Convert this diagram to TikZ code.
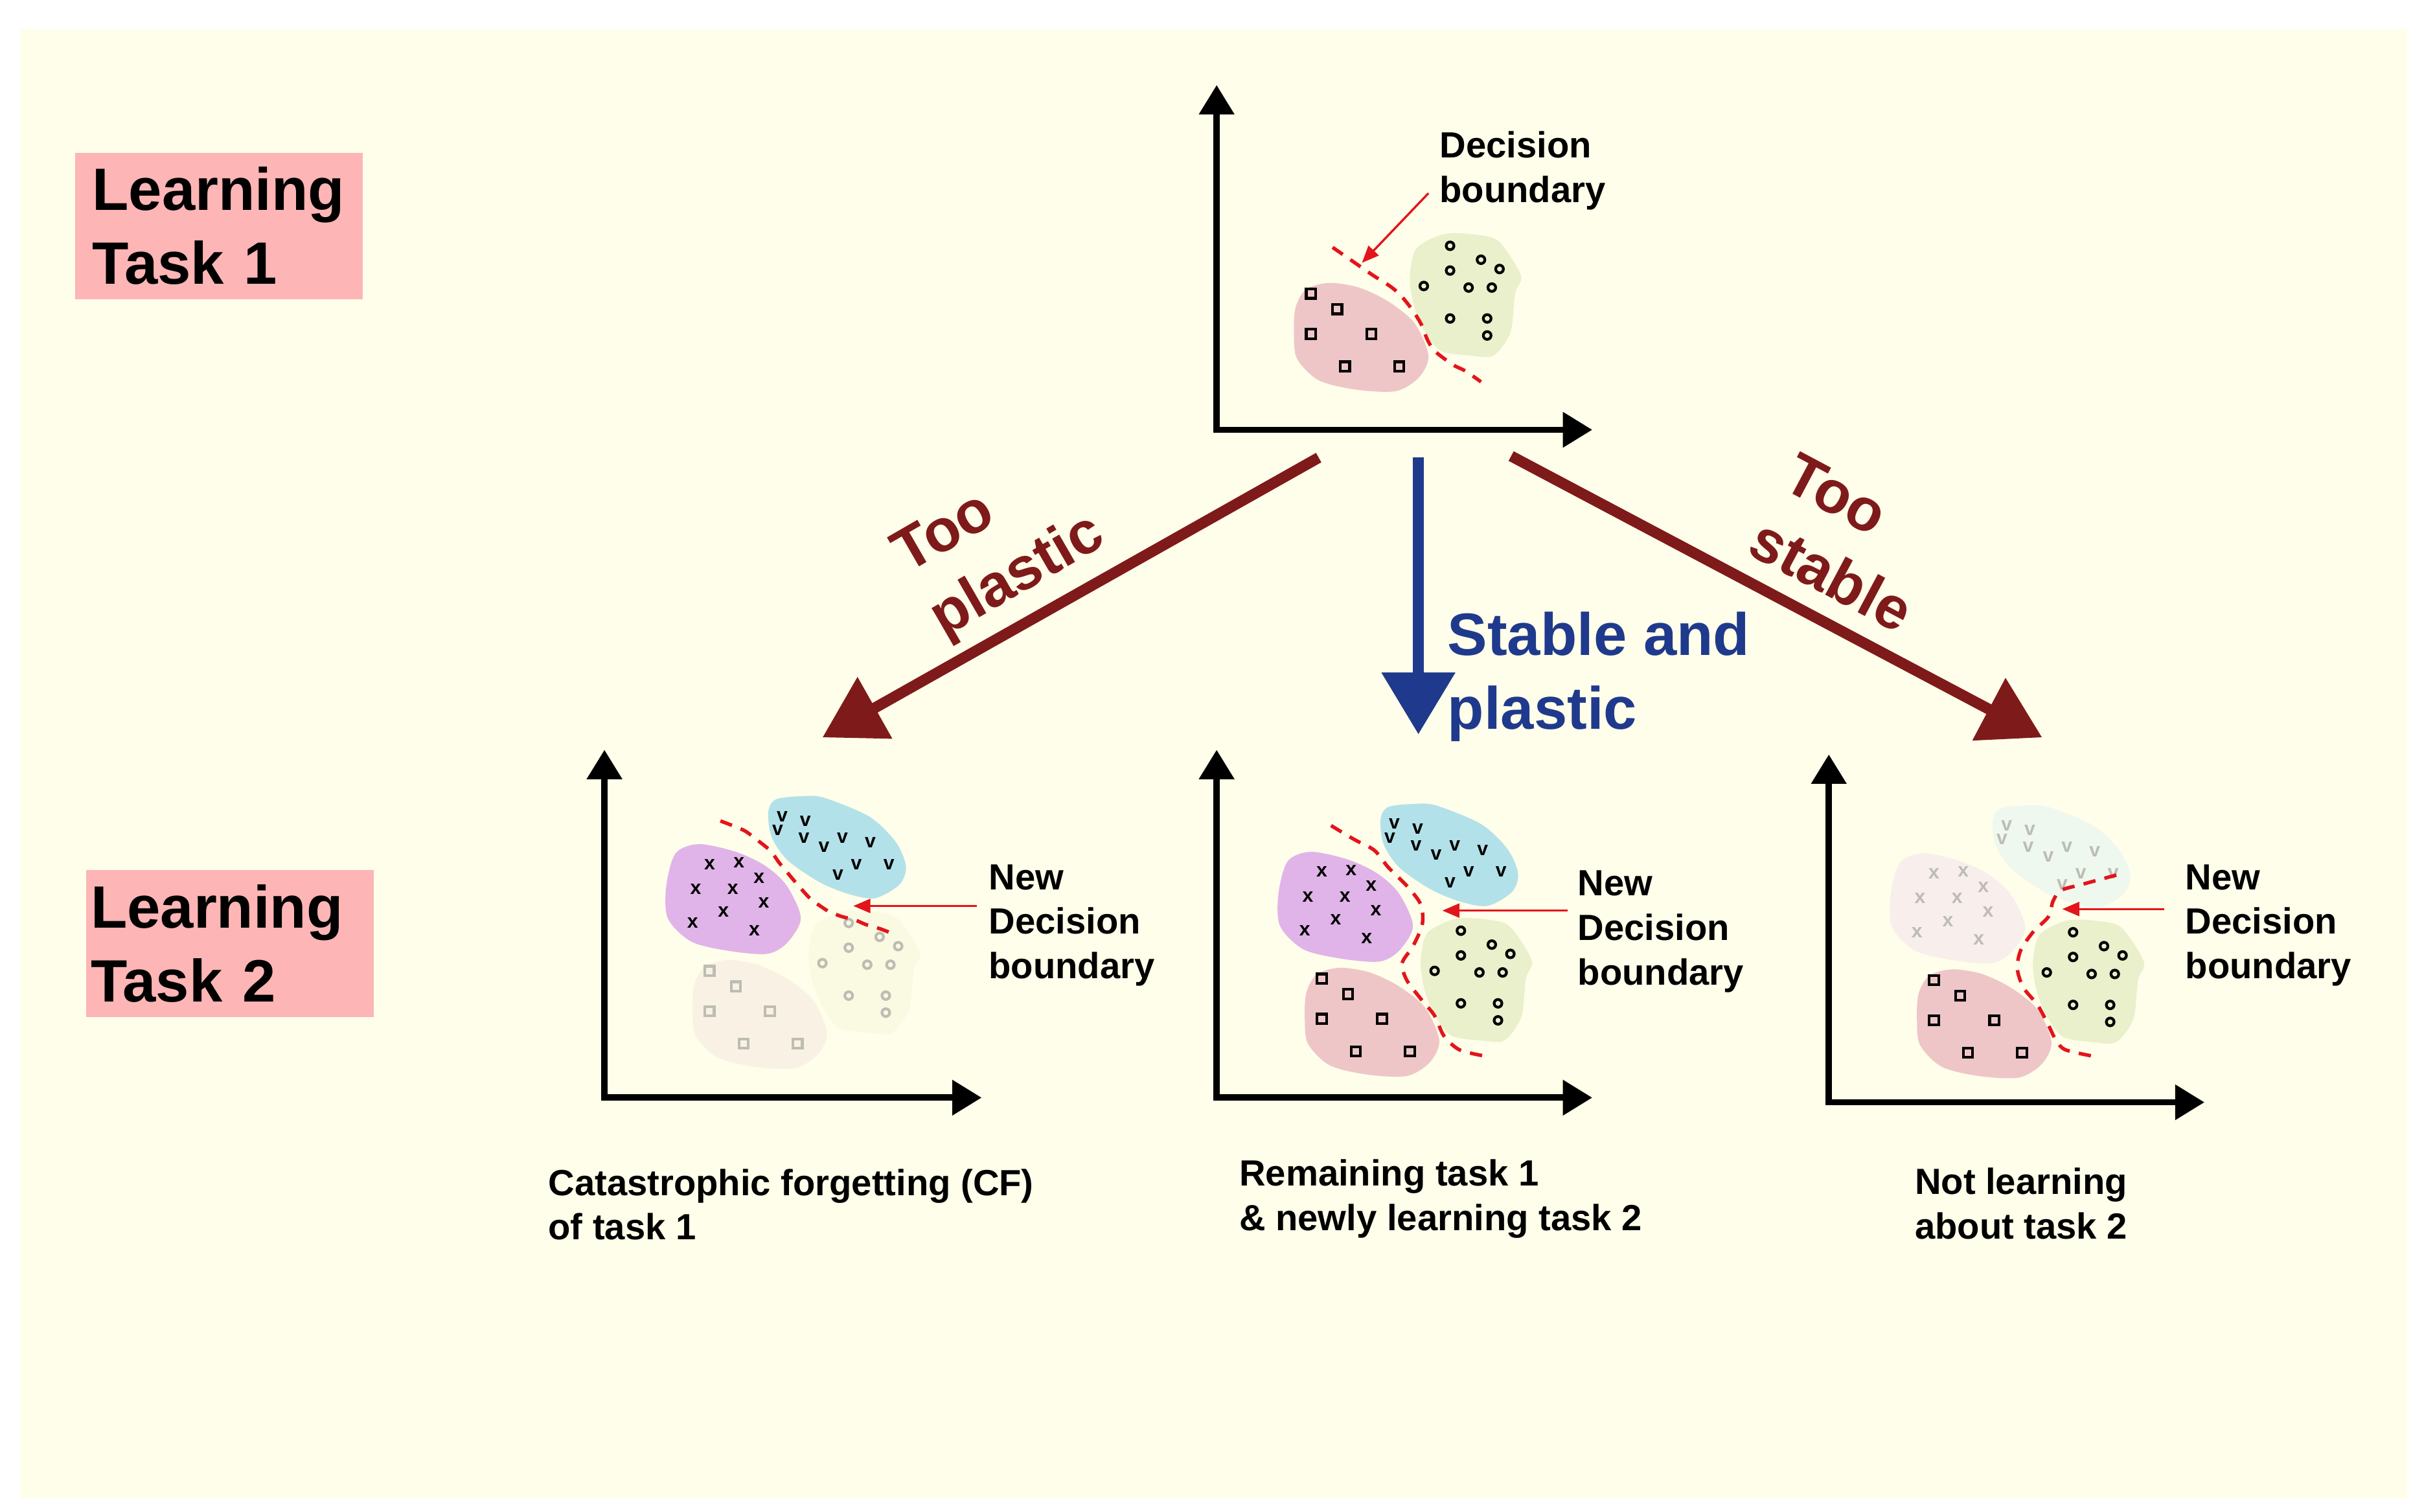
\documentclass[tikz,border=0pt]{standalone}
\usepackage{fontspec}
\setmainfont{Liberation Sans}
\usetikzlibrary{arrows.meta, positioning}
\definecolor{cream}{HTML}{FEFEEA}
\definecolor{taskpink}{HTML}{FDB5B5}
\definecolor{bpink}{HTML}{EEC6C8}
\definecolor{bgreen}{HTML}{E9F0CB}
\definecolor{bcyan}{HTML}{B3E1E9}
\definecolor{bpurple}{HTML}{E0B4E8}
\definecolor{fpink}{HTML}{F9F2E4}
\definecolor{fgreen}{HTML}{FAFAE3}
\definecolor{fpurple}{HTML}{F8EEEB}
\definecolor{fcyan}{HTML}{EFF8EE}
\definecolor{fgrey}{HTML}{BDBDB3}
\definecolor{dashred}{HTML}{E3141B}
\definecolor{darkred}{HTML}{7F1A1A}
\definecolor{navy}{HTML}{1F3A8C}
\tikzset{
  every picture/.style={font=\bfseries},
  axes/.style={line width=1.17pt, line join=miter, {Triangle[length=1.9mm, width=2.2mm]}-{Triangle[length=1.9mm, width=2.2mm]}},
  taskbox/.style={fill=taskpink, anchor=north west, minimum width=18.6mm, minimum height=9.5mm, text width=16.4mm, inner xsep=1.1mm, inner ysep=0pt, align=left, font=\fontsize{11}{13.6}\selectfont\bfseries},
  branch/.style={anchor=base west, align=left, inner sep=0pt, font=\fontsize{11}{13.6}\selectfont\bfseries},
  note/.style={anchor=base west, align=left, inner sep=0pt, font=\fontsize{6.7}{8.2}\selectfont\bfseries},
  glyph/.style={inner sep=0pt, font=\fontsize{3.6}{4}\selectfont\bfseries},
  boundary/.style={draw=dashred, line width=0.65pt, dash pattern=on 0.8mm off 0.6mm},
  pointer/.style={draw=dashred, line width=0.4pt, -{Triangle[length=1.1mm, width=0.9mm]}},
  bigarrow/.style={line width=2pt, -{Triangle[length=3.9mm, width=4.4mm]}},
}
\newcommand{\pinkblob}[2]{%
  \fill[#1] plot[smooth cycle] coordinates {(58,-68) (65,-80) (80,-84) (99,-81) (118,-72) (135,-58) (144,-37) (138,-23) (123,-14) (97,-15) (73,-21) (59,-35) (57,-51)};
  \foreach \mx/\my in {68/-77, 85/-67, 68/-51, 107/-51, 90/-30, 125/-30}
    \draw[draw=#2, line width=0.5pt] (\mx-3,\my-3) rectangle (\mx+3,\my+3);
}
\newcommand{\greenblob}[2]{%
  \fill[#1] plot[smooth cycle] coordinates {(152,-115) (166,-116) (186,-113) (195,-104) (204,-88) (200,-77) (197,-52) (186,-37) (171,-37) (152,-40) (142,-52) (135,-68) (132,-87) (136,-106)};
  \foreach \mx/\my in {158/-108, 178/-99, 158/-92, 190/-93, 141/-82, 170/-81, 185/-81, 158/-61, 182/-61, 182/-50}
    \draw[draw=#2, line width=0.5pt] (\mx,\my) circle[radius=2.5];
}
\newcommand{\purpleblob}[2]{%
  \fill[#1] plot[smooth cycle] coordinates {(40,-132) (46,-153) (61,-159) (85,-154) (104,-145) (118,-132) (127,-111) (118,-95) (105,-88) (80,-90) (56,-96) (41,-111)};
  \foreach \mx/\my in {68/-146, 87/-147, 100/-137, 59/-130, 83/-130, 103/-121, 77/-115, 57/-108, 97/-103}
    \node[glyph, text=#2] at (\mx,\my) {x};
}
\newcommand{\cyanblob}[2]{%
  \fill[#1] plot[smooth cycle] coordinates {(106,-180) (111,-188) (128,-190) (142,-189) (171,-177) (188,-161) (195,-145) (191,-133) (175,-124) (157,-127) (138,-135) (118,-149) (108,-164)};
  \foreach \mx/\my in {115/-177, 130/-174, 112/-168, 129/-163, 154/-163, 172/-160, 142/-157, 163/-146, 184/-146, 151/-139}
    \node[glyph, text=#2] at (\mx,\my) {v};
}

\begin{document}
\begin{tikzpicture}[x=0.1mm, y=-0.1mm]
  \useasboundingbox (0,0) rectangle (1568,978);
  \fill[cream] (13,19) rectangle (1557,969);

  \node[taskbox] (task1) at (48,98) {Learning\\Task 1};
  \node[taskbox, text width=18mm, inner xsep=0.3mm] (task2) at (55,562) {Learning\\Task 2};

  % task 1 only
  \begin{scope}[shift={(787,278)}]
    \begin{scope}[shift={(-7,-11)}]
      \pinkblob{bpink}{black}
      \greenblob{bgreen}{black}
    \end{scope}
    \draw[boundary] plot[smooth] coordinates {(75,-118) (88,-109) (101,-100) (112,-93) (119,-87) (127,-77) (133,-67) (136,-59) (141,-51) (153,-42) (161,-38) (171,-31)};
    \draw[axes] (0,-223) -- (0,0) -- (243,0);
    \node[note] (db1) at (143.6,-147) {Decision\\boundary};
    \coordinate (db1tail) at (137,-153);
    \coordinate (db1tip) at (94,-108);
    \draw[pointer] (db1tail) -- (db1tip);
  \end{scope}

  % too plastic
  \begin{scope}[shift={(391,710)}]
    \begin{scope}[shift={(0,-5)}]
      \pinkblob{fpink}{fgrey}
      \greenblob{fgreen}{fgrey}
      \purpleblob{bpurple}{black}
      \cyanblob{bcyan}{black}
    \end{scope}
    \draw[boundary] plot[smooth] coordinates {(75,-179) (90,-173) (97,-168) (107,-160) (113,-152) (118,-146) (123,-140) (130,-132) (134,-128) (141,-123) (146,-120) (154,-117) (162,-115) (169,-112) (179,-109) (189,-105)};
    \draw[axes] (0,-225) -- (0,0) -- (244,0);
    \node[note] (db2) at (248,-77) {New\\Decision\\boundary};
    \coordinate (db2tail) at (241,-124);
    \coordinate (db2tip) at (161,-124);
    \draw[pointer] (db2tail) -- (db2tip);
    \node[note] (cf) at (-37,92) {Catastrophic forgetting (CF)\\of task 1};
  \end{scope}

  % stable and plastic
  \begin{scope}[shift={(787,710)}]
    \pinkblob{bpink}{black}
    \greenblob{bgreen}{black}
    \purpleblob{bpurple}{black}
    \cyanblob{bcyan}{black}
    \draw[boundary] plot[smooth] coordinates {(74,-176) (89,-167) (102,-160) (111,-149) (123,-137) (132,-125) (133,-112) (127,-98) (120,-87) (123,-76) (132,-64) (141,-53) (147,-40) (157,-31) (173,-27)};
    \draw[axes] (0,-225) -- (0,0) -- (243,0);
    \node[note] (db3) at (233,-73) {New\\Decision\\boundary};
    \coordinate (db3tail) at (227,-121);
    \coordinate (db3tip) at (146,-121);
    \draw[pointer] (db3tail) -- (db3tip);
    \node[note] (keep) at (14,86) {Remaining task 1\\\& newly learning task 2};
  \end{scope}

  % too stable
  \begin{scope}[shift={(1183,713)}]
    \begin{scope}[shift={(0,-2)}]
      \pinkblob{bpink}{black}
      \greenblob{bgreen}{black}
      \purpleblob{fpurple}{fgrey}
      \cyanblob{fcyan}{fgrey}
    \end{scope}
    \draw[boundary] plot[smooth] coordinates {(186,-147) (164,-141) (150,-137) (145,-130) (142,-120) (132,-110) (124,-98) (122,-86) (126,-74) (135,-63) (142,-50) (147,-40) (153,-34) (170,-30)};
    \draw[axes] (0,-225) -- (0,0) -- (243,0);
    \node[note] (db4) at (230,-80) {New\\Decision\\boundary};
    \coordinate (db4tail) at (217,-125);
    \coordinate (db4tip) at (151,-125);
    \draw[pointer] (db4tail) -- (db4tip);
    \node[note] (nolearn) at (55,88.5) {Not learning\\about task 2};
  \end{scope}

  \coordinate (plasticFrom) at (853,296);
  \coordinate (plasticTo) at (532,477);
  \coordinate (bothFrom) at (917.5,296);
  \coordinate (bothTo) at (917.5,475);
  \coordinate (stableFrom) at (977.5,295);
  \coordinate (stableTo) at (1321,477);
  \draw[bigarrow, darkred] (plasticFrom) -- (plasticTo);
  \draw[bigarrow, navy, -{Triangle[length=4mm, width=4.6mm]}] (bothFrom) -- (bothTo);
  \draw[bigarrow, darkred] (stableFrom) -- (stableTo);

  \node[branch, text=darkred, rotate=30] (tooPlastic) at (610,413) {Too\\plastic};
  \node[branch, text=darkred, rotate=-28] (tooStable) at (1128.6,357.2) {Too\\stable};
  \node[branch, text=navy] (stablePlastic) at (935.7,471.5) {Stable and\\plastic};
\end{tikzpicture}
\end{document}
